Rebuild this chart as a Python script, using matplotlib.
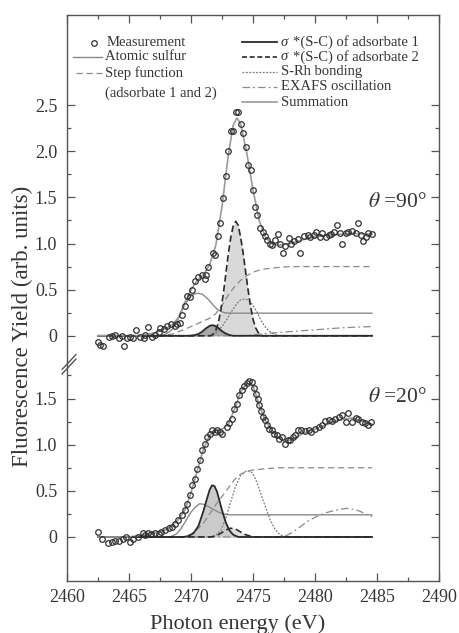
"""
Sulfur K-edge NEXAFS (fluorescence yield) at two incidence angles,
with peak-fit components. Drawn as one axes with a broken y axis.
"""

import numpy as np
import matplotlib
matplotlib.use("Agg")
import matplotlib.pyplot as plt

plt.rcParams["font.family"] = "serif"
plt.rcParams["font.serif"] = ["Liberation Serif", "DejaVu Serif"]
plt.rcParams["mathtext.fontset"] = "stix"

# =============================================================================
# DATA  (theta = 90 deg, upper panel)
# =============================================================================
e90_meas = [2462.5, 2462.7, 2462.9, 2463.35, 2463.6, 2463.9, 2464.2, 2464.4, 2464.6, 2464.8,
            2465.1, 2465.3, 2465.6, 2465.9, 2466.2, 2466.3, 2466.56, 2466.85, 2467.1, 2467.4,
            2467.5, 2467.8, 2468.1, 2468.4, 2468.7, 2468.9, 2469.1, 2469.25, 2469.5, 2469.65,
            2469.9, 2470.05, 2470.32, 2470.6, 2470.9, 2471.1, 2471.2, 2471.4, 2471.75, 2471.9,
            2472.15, 2472.34, 2472.55, 2472.8, 2473.0, 2473.23, 2473.4, 2473.6, 2473.8, 2474.03,
            2474.2, 2474.44, 2474.6, 2474.8, 2474.97, 2475.16, 2475.35, 2475.6, 2475.8, 2476.0,
            2476.15, 2476.37, 2476.55, 2476.77, 2477.04, 2477.2, 2477.4, 2477.6, 2477.9, 2478.1,
            2478.3, 2478.6, 2478.8, 2479.1, 2479.4, 2479.6, 2479.9, 2480.1, 2480.4, 2480.6,
            2480.9, 2481.1, 2481.3, 2481.5, 2481.75, 2482.0, 2482.2, 2482.5, 2482.7, 2483.0,
            2483.3, 2483.5, 2483.7, 2483.9, 2484.1, 2484.3, 2484.6]
y90_meas = [-0.07, -0.10, -0.115, -0.015, 0.0, 0.01, -0.025, 0.0, -0.115, -0.025,
            -0.01, -0.025, 0.065, -0.01, -0.025, 0.01, 0.10, -0.01, 0.01, 0.04,
            0.085, 0.075, 0.11, 0.13, 0.11, 0.13, 0.14, 0.23, 0.32, 0.43,
            0.42, 0.50, 0.59, 0.64, 0.66, 0.62, 0.66, 0.75, 0.90, 0.88,
            1.08, 1.22, 1.49, 1.73, 2.00, 2.22, 2.22, 2.43, 2.43, 2.29,
            2.20, 2.05, 1.85, 1.80, 1.58, 1.40, 1.31, 1.17, 1.13, 1.08,
            1.04, 0.99, 0.985, 1.04, 1.105, 1.00, 0.90, 0.97, 1.06, 1.00,
            1.03, 1.05, 0.90, 1.08, 1.09, 1.075, 1.09, 1.12, 1.075, 1.11,
            1.075, 1.09, 1.10, 1.12, 1.20, 1.11, 1.00, 1.11, 1.12, 1.14,
            1.11, 1.22, 1.09, 1.03, 1.07, 1.11, 1.10]

e90_sum = [2462.5, 2466.0, 2467.0, 2468.0, 2468.5, 2469.0, 2469.5, 2470.0, 2470.5, 2471.0,
           2471.5, 2472.0, 2472.5, 2473.0, 2473.4, 2473.7, 2474.0, 2474.5, 2475.0, 2475.5,
           2476.0, 2476.5, 2477.0, 2477.5, 2478.0, 2479.0, 2480.0, 2481.0, 2482.0, 2483.0, 2484.6]
y90_sum = [0.0, 0.0, 0.03, 0.08, 0.12, 0.2, 0.36, 0.5, 0.6, 0.66,
           0.77, 0.98, 1.4, 1.95, 2.28, 2.36, 2.3, 1.98, 1.58, 1.25,
           1.07, 1.0, 0.98, 0.99, 1.0, 1.04, 1.07, 1.09, 1.10, 1.11, 1.10]

e90_atomic = [2462.5, 2467.5, 2468.0, 2468.5, 2469.0, 2469.5, 2470.0, 2470.3, 2470.6, 2470.9,
              2471.2, 2471.5, 2471.8, 2472.1, 2472.4, 2472.7, 2473.0, 2484.6]
y90_atomic = [0.0, 0.0, 0.02, 0.07, 0.19, 0.34, 0.43, 0.455, 0.46, 0.45,
              0.42, 0.38, 0.33, 0.29, 0.265, 0.25, 0.245, 0.245]

e90_step = [2462.5, 2467.5, 2468.5, 2469.5, 2470.5, 2471.5, 2472.0, 2472.5, 2473.0, 2473.5,
            2474.0, 2474.5, 2475.0, 2475.5, 2476.0, 2477.0, 2478.0, 2484.6]
y90_step = [0.0, 0.0, 0.02, 0.07, 0.13, 0.19, 0.24, 0.33, 0.44, 0.53,
            0.60, 0.65, 0.69, 0.71, 0.725, 0.74, 0.75, 0.75]

e90_ads1 = [2462.5, 2469.8, 2470.2, 2470.6, 2470.9, 2471.2, 2471.5, 2471.7, 2471.9, 2472.2,
            2472.5, 2472.8, 2473.1, 2473.4, 2484.6]
y90_ads1 = [0.0, 0.0, 0.005, 0.02, 0.045, 0.08, 0.107, 0.115, 0.11, 0.085,
            0.05, 0.025, 0.008, 0.0, 0.0]

e90_ads2 = [2462.5, 2471.6, 2471.8, 2472.0, 2472.2, 2472.4, 2472.6, 2472.8, 2473.0, 2473.2,
            2473.4, 2473.6, 2473.8, 2474.0, 2474.2, 2474.4, 2474.6, 2474.8, 2475.0, 2475.2,
            2475.4, 2475.6, 2475.8, 2484.6]
y90_ads2 = [0.0, 0.0, 0.02, 0.06, 0.14, 0.27, 0.45, 0.66, 0.88, 1.06,
            1.19, 1.24, 1.20, 1.07, 0.90, 0.70, 0.50, 0.32, 0.18, 0.09,
            0.04, 0.01, 0.0, 0.0]

e90_srh = [2462.5, 2471.5, 2472.0, 2472.5, 2472.9, 2473.3, 2473.7, 2474.0, 2474.35, 2474.7,
           2475.0, 2475.3, 2475.6, 2475.9, 2476.3, 2476.8, 2477.2, 2484.6]
y90_srh = [0.0, 0.0, 0.03, 0.10, 0.18, 0.27, 0.35, 0.39, 0.40, 0.38,
           0.33, 0.26, 0.18, 0.11, 0.05, 0.01, 0.0, 0.0]

e90_exafs = [2462.5, 2474.0, 2475.0, 2476.0, 2477.0, 2478.0, 2479.0, 2480.0, 2481.0, 2482.0,
             2483.0, 2484.6]
y90_exafs = [0.0, 0.0, 0.01, 0.025, 0.035, 0.045, 0.055, 0.065, 0.075, 0.085,
             0.092, 0.10]

# =============================================================================
# DATA  (theta = 20 deg, lower panel)
# =============================================================================
e20_meas = [2462.53, 2462.8, 2463.3, 2463.6, 2463.9, 2464.2, 2464.5, 2464.76, 2465.08, 2465.35,
            2465.75, 2466.1, 2466.3, 2466.56, 2466.8, 2467.1, 2467.4, 2467.6, 2467.9, 2468.2,
            2468.44, 2468.7, 2468.98, 2469.25, 2469.5, 2469.7, 2469.9, 2470.1, 2470.3, 2470.5,
            2470.7, 2470.9, 2471.13, 2471.3, 2471.5, 2471.7, 2471.9, 2472.1, 2472.3, 2472.5,
            2472.9, 2473.1, 2473.3, 2473.5, 2473.7, 2473.9, 2474.1, 2474.3, 2474.5, 2474.7,
            2474.95, 2475.1, 2475.25, 2475.4, 2475.5, 2475.65, 2475.8, 2475.97, 2476.15, 2476.3,
            2476.5, 2476.7, 2476.9, 2477.1, 2477.3, 2477.6, 2477.8, 2478.0, 2478.2, 2478.4,
            2478.65, 2478.9, 2479.2, 2479.5, 2479.7, 2480.0, 2480.3, 2480.6, 2480.8, 2481.1,
            2481.4, 2481.6, 2481.9, 2482.2, 2482.5, 2482.7, 2483.0, 2483.3, 2483.5, 2483.8,
            2484.0, 2484.3, 2484.5]
y20_meas = [0.05, -0.025, -0.06, -0.05, -0.045, -0.04, -0.025, 0.0, -0.05, -0.025,
            0.0, 0.04, 0.02, 0.045, 0.03, 0.04, 0.03, 0.055, 0.075, 0.10,
            0.11, 0.145, 0.18, 0.24, 0.29, 0.36, 0.45, 0.56, 0.63, 0.74,
            0.83, 0.94, 1.01, 1.085, 1.12, 1.16, 1.14, 1.16, 1.14, 1.12,
            1.19, 1.23, 1.28, 1.39, 1.445, 1.535, 1.59, 1.64, 1.67, 1.69,
            1.68, 1.61, 1.55, 1.50, 1.43, 1.365, 1.30, 1.265, 1.21, 1.175,
            1.157, 1.12, 1.10, 1.067, 1.08, 1.01, 1.05, 1.05, 1.08, 1.10,
            1.157, 1.157, 1.15, 1.157, 1.14, 1.175, 1.19, 1.21, 1.257, 1.265,
            1.257, 1.28, 1.30, 1.32, 1.25, 1.34, 1.25, 1.29, 1.28, 1.25,
            1.23, 1.21, 1.25]

e20_sum = [2462.5, 2465.0, 2466.0, 2467.0, 2468.0, 2468.5, 2469.0, 2469.5, 2470.0, 2470.5,
           2471.0, 2471.5, 2472.0, 2472.5, 2473.0, 2473.5, 2474.0, 2474.5, 2475.0, 2475.5,
           2476.0, 2476.5, 2477.0, 2477.5, 2478.0, 2478.5, 2479.0, 2480.0, 2481.0, 2482.0,
           2483.0, 2484.0, 2484.6]
y20_sum = [0.0, 0.0, 0.02, 0.04, 0.08, 0.13, 0.19, 0.29, 0.48, 0.72,
           0.95, 1.10, 1.15, 1.17, 1.22, 1.38, 1.57, 1.67, 1.64, 1.43,
           1.26, 1.16, 1.08, 1.04, 1.05, 1.08, 1.12, 1.17, 1.22, 1.27,
           1.29, 1.25, 1.22]

e20_atomic = [2462.5, 2468.3, 2468.8, 2469.2, 2469.6, 2470.0, 2470.4, 2470.7, 2471.0, 2471.4,
              2471.8, 2472.2, 2472.6, 2473.0, 2484.6]
y20_atomic = [0.0, 0.0, 0.03, 0.09, 0.18, 0.27, 0.33, 0.36, 0.355, 0.33,
              0.30, 0.27, 0.25, 0.24, 0.24]

e20_step = [2462.5, 2469.2, 2469.6, 2470.0, 2470.5, 2471.0, 2471.5, 2472.0, 2472.5, 2473.0,
            2473.5, 2474.0, 2474.5, 2475.0, 2476.0, 2477.0, 2484.6]
y20_step = [0.0, 0.0, 0.01, 0.03, 0.08, 0.15, 0.25, 0.35, 0.44, 0.53,
            0.62, 0.68, 0.71, 0.725, 0.74, 0.75, 0.75]

e20_ads1 = [2462.5, 2469.4, 2469.8, 2470.2, 2470.6, 2471.0, 2471.3, 2471.5, 2471.7, 2471.9,
            2472.1, 2472.3, 2472.5, 2472.8, 2473.1, 2473.4, 2473.8, 2484.6]
y20_ads1 = [0.0, 0.0, 0.01, 0.04, 0.12, 0.28, 0.42, 0.51, 0.56, 0.55,
            0.49, 0.39, 0.29, 0.16, 0.07, 0.025, 0.0, 0.0]

e20_ads2 = [2462.5, 2471.6, 2472.0, 2472.4, 2472.8, 2473.2, 2473.6, 2474.0, 2474.4, 2474.8,
            2475.2, 2484.6]
y20_ads2 = [0.0, 0.0, 0.01, 0.04, 0.075, 0.095, 0.085, 0.055, 0.025, 0.008,
            0.0, 0.0]

e20_srh = [2462.5, 2471.6, 2472.0, 2472.4, 2472.8, 2473.2, 2473.6, 2474.0, 2474.5, 2474.9,
           2475.2, 2475.5, 2475.8, 2476.1, 2476.4, 2476.7, 2477.0, 2477.4, 2477.8, 2484.6]
y20_srh = [0.0, 0.0, 0.02, 0.07, 0.20, 0.38, 0.55, 0.67, 0.72, 0.70,
           0.63, 0.52, 0.40, 0.29, 0.18, 0.10, 0.045, 0.01, 0.0, 0.0]

e20_exafs = [2462.5, 2476.5, 2477.6, 2478.2, 2478.8, 2479.4, 2480.1, 2480.8, 2481.5, 2482.0,
             2482.55, 2483.1, 2483.6, 2484.1, 2484.6]
y20_exafs = [0.0, 0.0, 0.01, 0.05, 0.11, 0.17, 0.22, 0.26, 0.285, 0.30,
             0.31, 0.30, 0.28, 0.25, 0.22]

# vertical shift of the upper (90 deg) block on the shared axis
OFFSET = 2.18

TXT = "#353535"
SPINE = "#555555"


def draw_block(ax, shift, meas, summ, atomic, step, ads1, ads2, srh, exafs, fills):
    """Draw one angle: fit components, summation and the measured points."""
    e1, y1 = np.array(ads1[0]), np.array(ads1[1]) + shift
    e2, y2 = np.array(ads2[0]), np.array(ads2[1]) + shift
    ax.fill_between(e2, shift, y2, color=fills[1], lw=0, zorder=1)
    ax.fill_between(e1, shift, y1, color=fills[0], lw=0, zorder=1.2)

    ax.plot(atomic[0], np.array(atomic[1]) + shift, color="#8a8a8a", lw=1.0, zorder=2)
    ax.plot(step[0], np.array(step[1]) + shift, color="#8a8a8a", lw=0.9,
            ls=(0, (5, 3)), zorder=2)
    ax.plot(srh[0], np.array(srh[1]) + shift, color="#7a7a7a", lw=0.9,
            ls=(0, (1.5, 1.2)), zorder=2)
    ax.plot(exafs[0], np.array(exafs[1]) + shift, color="#8a8a8a", lw=0.9,
            ls=(0, (6, 2.5, 1.5, 2.5)), zorder=2)
    ax.plot(e2, y2, color="#2a2a2a", lw=1.2, ls=(0, (4, 2)), zorder=3)
    ax.plot(e1, y1, color="#2a2a2a", lw=1.3, zorder=3)
    ax.plot(summ[0], np.array(summ[1]) + shift, color="#9a9a9a", lw=1.2, zorder=3)
    ax.plot(meas[0], np.array(meas[1]) + shift, ls="none", marker="o", ms=4.0,
            mfc="none", mec="#303030", mew=0.9, zorder=4)


fig = plt.figure(figsize=(4.6, 6.33), dpi=100)
ax = fig.add_axes([67 / 460, 52 / 633, 372 / 460, 566 / 633])

draw_block(ax, OFFSET, (e90_meas, y90_meas), (e90_sum, y90_sum), (e90_atomic, y90_atomic),
           (e90_step, y90_step), (e90_ads1, y90_ads1), (e90_ads2, y90_ads2),
           (e90_srh, y90_srh), (e90_exafs, y90_exafs), ("#a8a8a8", "#d9d9d9"))
draw_block(ax, 0.0, (e20_meas, y20_meas), (e20_sum, y20_sum), (e20_atomic, y20_atomic),
           (e20_step, y20_step), (e20_ads1, y20_ads1), (e20_ads2, y20_ads2),
           (e20_srh, y20_srh), (e20_exafs, y20_exafs), ("#cbcbcb", "#dedede"))

ax.set_xlim(2460, 2490)
ax.set_ylim(-0.477, 5.656)

# --- ticks: two y scales on one axis ---
low_major = [0.0, 0.5, 1.0, 1.5]
up_major = [0.0, 0.5, 1.0, 1.5, 2.0, 2.5]
low_minor = [0.25, 0.75, 1.25, 1.75]
up_minor = [0.25, 0.75, 1.25, 1.75, 2.25]
fmt = lambda v: "0" if v == 0 else f"{v:.1f}"
ax.set_yticks(low_major + [v + OFFSET for v in up_major])
ax.set_yticklabels([fmt(v) for v in low_major] + [fmt(v) for v in up_major])
ax.set_yticks(low_minor + [v + OFFSET for v in up_minor], minor=True)
ax.set_xticks(np.arange(2460, 2491, 5))
ax.set_xticks(np.arange(2460, 2491, 2.5), minor=True)

ax.tick_params(which="both", direction="in", top=True, right=True, color=SPINE,
               labelcolor=TXT, labelsize=13, width=0.9)
ax.tick_params(which="major", length=6)
ax.tick_params(which="minor", length=3)
ax.tick_params(axis="y", pad=7)
ax.tick_params(axis="x", pad=6)
for s in ax.spines.values():
    s.set_color(SPINE)
    s.set_linewidth(1.0)

ax.set_xlabel("Photon energy (eV)", fontsize=16, color=TXT)
ax.xaxis.set_label_coords(0.46, -0.058)
ax.set_ylabel("Fluorescence Yield (arb. units)", fontsize=16.5, color=TXT)
ax.yaxis.set_label_coords(-0.09, 0.45)

# axis-break marks on the left spine
for dy in (0.0, 0.008):
    ax.plot([-0.013, 0.024], [0.366 + dy, 0.392 + dy], transform=ax.transAxes,
            color=SPINE, lw=1.0, clip_on=False, zorder=5)

ax.text(2484.3, 1.44 + OFFSET, r"$\theta$ =90°", fontsize=15.5, color=TXT, va="center")
ax.text(2484.3, 1.51, r"$\theta$ =20°", fontsize=15.5, color=TXT, va="center")

# --- hand-placed legend (two columns) ---
fx = lambda px: (px - 67) / 372
fy = lambda py: (581 - py) / 566
LEG = dict(transform=ax.transAxes, fontsize=10.5, color=TXT, va="center", ha="left")

ax.plot([fx(94)], [fy(43)], transform=ax.transAxes, ls="none", marker="o", ms=4.0,
        mfc="none", mec="#303030", mew=0.9, clip_on=False)
ax.text(fx(107), fy(43), "Measurement", **LEG)
ax.plot([fx(73), fx(102)], [fy(57)] * 2, transform=ax.transAxes, color="#8a8a8a", lw=1.0)
ax.text(fx(105), fy(57), "Atomic sulfur", **LEG)
ax.plot([fx(76), fx(102)], [fy(73)] * 2, transform=ax.transAxes, color="#8a8a8a", lw=0.9,
        ls=(0, (5, 3)))
ax.text(fx(105), fy(73), "Step function", **LEG)
ax.text(fx(105), fy(93), "(adsorbate 1 and 2)", **LEG)

right_rows = [
    (42, dict(color="#2a2a2a", lw=1.3), "*(S-C) of adsorbate 1", True),
    (57, dict(color="#2a2a2a", lw=1.2, ls=(0, (3, 1.6))), "*(S-C) of adsorbate 2", True),
    (72, dict(color="#7a7a7a", lw=0.9, ls=(0, (1.5, 1.2))), "S-Rh bonding", False),
    (87, dict(color="#8a8a8a", lw=0.9, ls=(0, (6, 2.5, 1.5, 2.5))), "EXAFS oscillation", False),
    (102, dict(color="#9a9a9a", lw=1.2), "Summation", False),
]
for py, style, label, sigma in right_rows:
    ax.plot([fx(242), fx(277)], [fy(py)] * 2, transform=ax.transAxes, **style)
    if sigma:
        ax.text(fx(281), fy(py), "\u03c3", style="italic", **LEG)
        ax.text(fx(293), fy(py), label, **LEG)
    else:
        ax.text(fx(281), fy(py), label, **LEG)

fig.savefig("out.png", dpi=100)
